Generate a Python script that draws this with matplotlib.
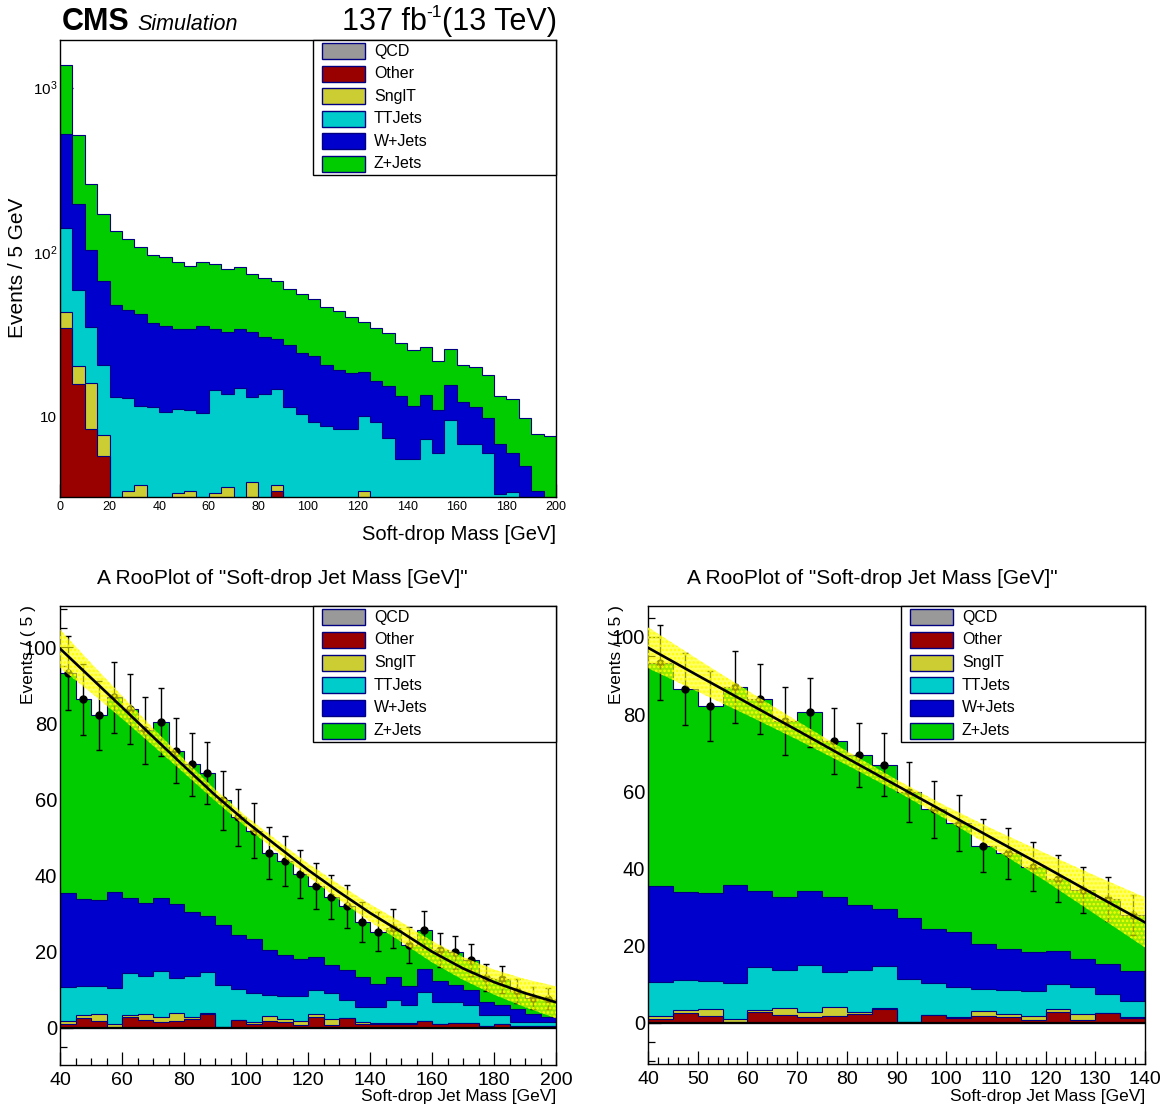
"""
Soft-drop jet mass: stacked MC backgrounds (log view) and two RooPlot fit views.
"""
import numpy as np
import matplotlib
matplotlib.use("Agg")
import matplotlib.pyplot as plt
from matplotlib.patches import Rectangle
from matplotlib.ticker import MultipleLocator, LogLocator, FuncFormatter, NullFormatter

plt.rcParams["font.family"] = ["Liberation Sans", "DejaVu Sans"]
plt.rcParams["mathtext.fontset"] = "custom"
plt.rcParams["mathtext.rm"] = "Liberation Sans"
plt.rcParams["mathtext.it"] = "Liberation Sans:italic"
plt.rcParams["axes.unicode_minus"] = False
plt.rcParams["hatch.linewidth"] = 1.2

# ---- binning: 5 GeV bins, 0-200 GeV
edges = np.arange(0, 205, 5)

# ---- per-process yields per bin (stack order bottom -> top)
qcd = np.zeros(40)
other = np.array([34.5, 15.6, 8.3, 5.7, 1.0, 1.5, 1.8, 1.2,
                  1.0, 2.6, 1.7, 0.3, 2.7, 2.0, 1.6, 1.8, 2.2, 3.5,
                  0.3, 2.1, 1.1, 1.8, 1.6, 0.8, 2.7, 0.8, 2.5, 1.1,
                  0.9, 1.0, 1.0, 1.9, 0.9, 1.2, 1.2, 0.4, 1.1, 0.4, 0.4, 0.4])
sngl_t = np.array([8.5, 4.6, 7.6, 2.0, 0.8, 2.0, 2.0, 0.9,
                   0.8, 0.8, 1.8, 0.7, 0.7, 1.7, 1.2, 2.2, 0.6, 0.3,
                   0.0, 0.0, 0.4, 1.2, 0.6, 1.0, 0.8, 1.4, 0.0, 0.3,
                   0.3, 0.2, 0.2, 0.0, 0.2, 0.1, 0.1, 0.1, 0.0, 0.1, 0.1, 0.1])
tt_jets = np.array([96.0, 38.1, 19.0, 12.7, 11.3, 9.4, 7.8, 9.2,
                    8.8, 7.7, 7.4, 9.4, 11.1, 9.9, 12.1, 9.1, 10.9, 10.9,
                    11.0, 8.2, 7.7, 5.7, 6.2, 6.5, 6.5, 7.0, 4.9, 4.1,
                    4.3, 6.1, 4.8, 7.6, 5.7, 5.5, 4.7, 2.85, 2.35, 1.1, 1.0, 1.0])
w_jets = np.array([380.0, 136.7, 68.1, 46.5, 34.1, 31.1, 30.1, 25.6,
                   24.8, 22.8, 22.8, 25.2, 19.6, 19.1, 19.2, 19.4, 16.8, 14.7,
                   15.8, 14.0, 14.2, 11.7, 10.7, 9.9, 8.6, 7.2, 7.8, 7.8,
                   6.1, 6.1, 4.9, 5.9, 5.4, 4.5, 3.8, 3.45, 2.55, 3.4, 2.0, 1.3])
z_jets = np.array([855.0, 319.0, 155.0, 104.0, 86.8, 75.0, 65.3, 58.4,
                   57.9, 52.5, 48.5, 51.3, 49.8, 45.5, 46.3, 40.4, 38.8, 37.5,
                   32.7, 31.0, 28.4, 25.5, 24.8, 22.2, 18.7, 18.0, 16.8, 14.6,
                   13.7, 12.8, 10.9, 10.3, 8.3, 8.5, 8.1, 6.4, 6.7, 4.7, 4.3, 4.8])

labels = ["QCD", "Other", "SnglT", "TTJets", "W+Jets", "Z+Jets"]
colors = ["#999999", "#990000", "#cccc33", "#00cccc", "#0000cc", "#00cc00"]
yields = [qcd, other, sngl_t, tt_jets, w_jets, z_jets]

# ---- fitted shape and its uncertainty (40-200 GeV fit, 40-140 GeV fit)
fit_x_full = np.arange(40, 205, 10)
fit_y_full = np.array([99.7, 92.0, 84.3, 76.5, 68.8, 61.2, 54.2, 47.8, 41.5,
                       35.7, 30.2, 25.2, 20.0, 15.6, 12.0, 9.1, 6.7])
fit_err_full = np.array([5.0, 3.9, 3.0, 2.3, 1.8, 1.5, 1.4, 1.5, 1.7,
                         2.0, 2.3, 2.6, 2.8, 3.0, 3.3, 3.7, 4.2])
fit_x_low = np.arange(40, 145, 10)
fit_y_low = np.array([97.2, 90.0, 82.9, 75.8, 68.6, 61.5, 54.4, 47.3, 40.3, 33.1, 26.0])
fit_err_low = np.array([5.3, 4.2, 3.2, 2.4, 1.8, 1.5, 1.7, 2.5, 3.6, 5.0, 6.5])

W, H = 1162, 1110
EDGE = "#000080"


def fx(x):
    return x / W


def fy(y):
    return 1 - y / H


def draw_stack(ax, floor):
    cum = np.cumsum(yields, axis=0)
    for i in range(len(yields) - 1, -1, -1):
        top = np.maximum(cum[i], floor)
        ax.stairs(top, edges, baseline=floor, fill=True, facecolor=colors[i],
                  edgecolor=EDGE, linewidth=0.8, zorder=2)


def draw_key(fig, left, top, right, bottom):
    fig.add_artist(Rectangle((fx(left), fy(bottom)), fx(right) - fx(left), fy(top) - fy(bottom),
                             transform=fig.transFigure, facecolor="white",
                             edgecolor="black", linewidth=1.0, zorder=5))
    pitch = (bottom - top) / len(labels)
    for i, (lab, col) in enumerate(zip(labels, colors)):
        yc = top + pitch * (i + 0.5)
        fig.add_artist(Rectangle((fx(left + 9), fy(yc + 8)), fx(43), 16 / H,
                                 transform=fig.transFigure, facecolor=col,
                                 edgecolor=EDGE, linewidth=1.0, zorder=6))
        fig.text(fx(left + 61), fy(yc), lab, fontsize=11.5, va="center", ha="left", zorder=7)


def style_axis(ax, xlab_size, ylab_size):
    ax.tick_params(which="both", direction="in", top=False, right=False, width=0.9)
    ax.tick_params(which="major", length=9.4)
    ax.tick_params(which="minor", length=5)
    ax.tick_params(axis="x", labelsize=xlab_size)
    ax.tick_params(axis="y", labelsize=ylab_size)
    for s in ax.spines.values():
        s.set_linewidth(1.0)


def fit_panel(ax, xmax, fx_pts, fy_pts, ferr):
    draw_stack(ax, 0.0)
    total = np.sum(yields, axis=0)
    centers = 0.5 * (edges[:-1] + edges[1:])
    sel = (centers > 40) & (centers < xmax)
    ax.errorbar(centers[sel], total[sel], yerr=np.sqrt(total[sel]), fmt="o", ms=5,
                color="black", elinewidth=1.0, capsize=2.5, capthick=1.0, zorder=3)
    # error band: translucent yellow with a dotted yellow pattern on top
    ax.fill_between(fx_pts, fy_pts - ferr, fy_pts + ferr, facecolor=(1, 1, 0, 0.6),
                    linewidth=0, zorder=4)
    ax.fill_between(fx_pts, fy_pts - ferr, fy_pts + ferr, facecolor="none",
                    edgecolor="#ffff00", hatch="....", linewidth=0, zorder=4)
    ax.plot(fx_pts, fy_pts, color="black", linewidth=1.9, zorder=5)
    ax.axhline(0, color="black", linewidth=1.6, zorder=4)
    ax.set_xlim(40, xmax)
    style_axis(ax, 14, 14.5)
    ax.yaxis.set_major_locator(MultipleLocator(20))
    ax.yaxis.set_minor_locator(MultipleLocator(5))
    ax.tick_params(axis="y", pad=2)
    ax.tick_params(axis="x", pad=5)


fig = plt.figure(figsize=(W / 100, H / 100), dpi=100)
renderer = fig.canvas.get_renderer()

# ---- top: full mass range, log scale
ax0 = fig.add_axes([fx(60), fy(497), 496 / W, 457 / H])
ax0.set_yscale("log")
draw_stack(ax0, 1e-2)
ax0.set_xlim(0, 200)
ax0.set_ylim(3.22, 1950)
style_axis(ax0, 9, 11)
ax0.xaxis.set_major_locator(MultipleLocator(20))
ax0.xaxis.set_minor_locator(MultipleLocator(5))
ax0.yaxis.set_major_locator(LogLocator(base=10))
ax0.yaxis.set_minor_locator(LogLocator(base=10, subs=np.arange(2, 10)))
ax0.yaxis.set_minor_formatter(NullFormatter())
ax0.yaxis.set_major_formatter(FuncFormatter(
    lambda v, p: "10" if abs(v - 10) < 1e-6 else r"$10^{%d}$" % round(np.log10(v))))
ax0.tick_params(axis="x", pad=3)
ax0.tick_params(axis="y", pad=2)
draw_key(fig, 313, 40, 556, 175)

fig.text(fx(62), fy(30), "CMS", fontsize=22, fontweight="bold", va="baseline")
fig.text(fx(137), fy(30), "Simulation", fontsize=15.5, style="italic", va="baseline")

# luminosity label built right-to-left so the superscript keeps a plain hyphen
t_energy = fig.text(fx(557), fy(30), "(13 TeV)", fontsize=22, ha="right", va="baseline")
x_left = t_energy.get_window_extent(renderer).x0
t_sup = fig.text(x_left / W, fy(17), "-1", fontsize=12.5, ha="right", va="baseline")
x_left = t_sup.get_window_extent(renderer).x0
fig.text(x_left / W, fy(30), "137 fb", fontsize=22, ha="right", va="baseline")

fig.text(fx(18), fy(268), "Events / 5 GeV", fontsize=15, rotation=90,
         ha="center", va="center")
fig.text(fx(556), fy(534), "Soft-drop Mass [GeV]", fontsize=14.5, ha="right", va="center")

# ---- bottom left: fit over 40-200 GeV
ax1 = fig.add_axes([fx(60), fy(1065), 496 / W, 459 / H])
fit_panel(ax1, 200, fit_x_full, fit_y_full, fit_err_full)
ax1.set_ylim(-9.8, 110.9)
ax1.xaxis.set_major_locator(MultipleLocator(20))
ax1.xaxis.set_minor_locator(MultipleLocator(5))
draw_key(fig, 313, 606, 556, 742)

# ---- bottom right: fit over 40-140 GeV
ax2 = fig.add_axes([fx(648), fy(1064), 497 / W, 458 / H])
fit_panel(ax2, 140, fit_x_low, fit_y_low, fit_err_low)
ax2.set_ylim(-10.7, 108.0)
ax2.xaxis.set_major_locator(MultipleLocator(10))
ax2.xaxis.set_minor_locator(MultipleLocator(2))
draw_key(fig, 901, 606, 1145, 742)

for xc, xl, xr in [(282, 28, 556), (872, 616, 1145)]:
    fig.text(fx(xc), fy(578), 'A RooPlot of "Soft-drop Jet Mass [GeV]"', fontsize=15,
             ha="center", va="center")
    fig.text(fx(xl), fy(605), "Events / ( 5 )", fontsize=12.5, rotation=90,
             ha="center", va="top")
    fig.text(fx(xr), fy(1096), "Soft-drop Jet Mass [GeV]", fontsize=12.5,
             ha="right", va="center")

fig.savefig("out.png", dpi=100)
